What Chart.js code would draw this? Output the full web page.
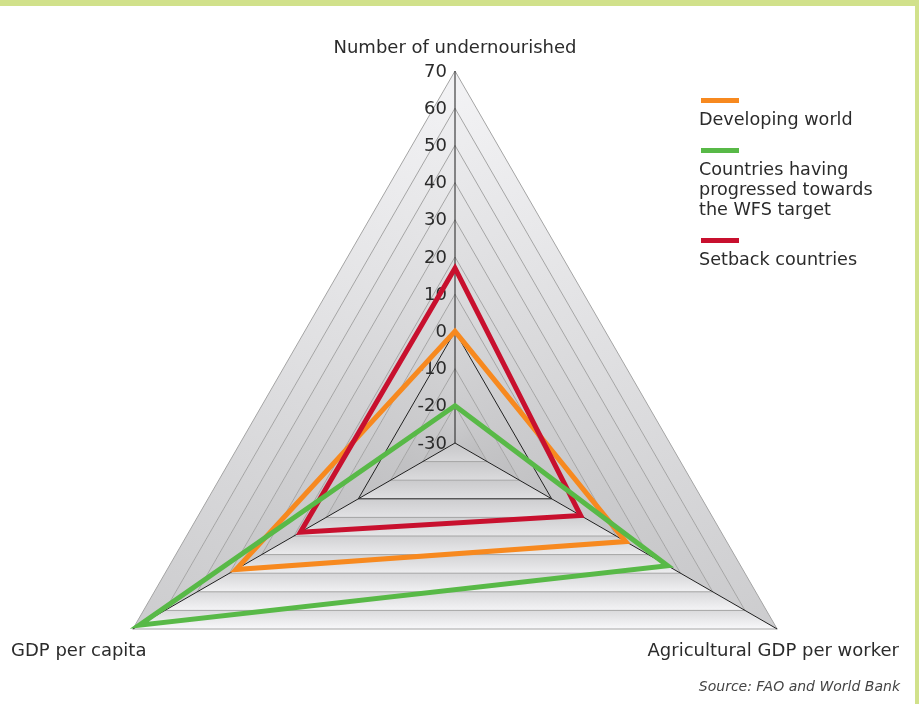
<!DOCTYPE html>
<html>
<head>
<meta charset="utf-8">
<script src="https://cdn.jsdelivr.net/npm/chart.js@4.4.1/dist/chart.umd.min.js"></script>
<style>
  html, body { margin: 0; padding: 0; background: #fff; overflow: hidden; }
  #frame { position: relative; width: 919px; height: 704px; overflow: hidden;
           font-family: "DejaVu Sans", sans-serif; color: #2b2b2b; }
  #radar { position: absolute; left: 0; top: 0; }
  #topbar { position: absolute; left: 0; top: 0; width: 919px; height: 6px; background: #d1e18b; }
  #rightbar { position: absolute; right: 0; top: 0; width: 4px; height: 704px; background: #d1e18b; }
  .axis-title { position: absolute; font-size: 18px; line-height: 20px; white-space: nowrap; }
  #legend { position: absolute; left: 699px; top: 98px; width: 192px; }
  .lg-item { margin-bottom: 19px; }
  .lg-bar { width: 38px; height: 5px; margin-left: 2px; margin-bottom: 6px; }
  .lg-text { font-size: 17.6px; line-height: 20px; }
  #source { position: absolute; right: 19px; top: 678px; font-size: 14px; font-style: italic; color: #444; }
</style>
</head>
<body>
<div id="frame">
  <canvas id="radar" width="919" height="830"></canvas>
  <div id="topbar"></div>
  <div id="rightbar"></div>
  <div class="axis-title" id="t0" style="left:455px; top:37px; transform:translateX(-50%);"></div>
  <div class="axis-title" id="t1" style="right:20px; top:640px;"></div>
  <div class="axis-title" id="t2" style="left:11px; top:640px;"></div>
  <div id="legend"></div>
  <div id="source">Source: FAO and World Bank</div>
</div>
<script>
const axisLabels = ['Number of undernourished', 'Agricultural GDP per worker', 'GDP per capita'];
const developingWorld = [0, 23, 38];
const progressedCountries = [-20, 36, 68];
const setbackCountries = [17, 9, 18];
const seriesNames = ['Developing world', 'Countries having progressed towards the WFS target', 'Setback countries'];
const seriesColors = ['#f7891f', '#58b947', '#c8102e'];
const tickMin = -30, tickMax = 70, tickStep = 10;

// axis titles and legend
axisLabels.forEach((l, i) => { document.getElementById('t' + i).textContent = l; });
const legend = document.getElementById('legend');
seriesNames.forEach((name, i) => {
    const item = document.createElement('div');
    item.className = 'lg-item';
    item.innerHTML = '<div class="lg-bar" style="background:' + seriesColors[i] + '"></div>' +
        '<div class="lg-text">' + name + '</div>';
    legend.appendChild(item);
});

function lerp(a, b, t) { return a + (b - a) * t; }
function grey(v) { v = Math.round(v); return 'rgb(' + v + ',' + v + ',' + (v + 2) + ')'; }
function mid(p, q) { return { x: (p.x + q.x) / 2, y: (p.y + q.y) / 2 }; }

// shaded pyramid faces behind the grid
const facetShading = {
    id: 'facetShading',
    beforeDraw(chart) {
        const s = chart.scales.r, ctx = chart.ctx;
        const n = chart.data.labels.length;
        ctx.save();
        for (let f = 0; f < n; f++) {
            const a = f, b = (f + 1) % n;
            for (let v = tickMin; v < tickMax; v += tickStep) {
                const A = s.getPointPositionForValue(a, v), B = s.getPointPositionForValue(b, v);
                const C = s.getPointPositionForValue(b, v + tickStep), D = s.getPointPositionForValue(a, v + tickStep);
                const t0 = (v - tickMin) / (tickMax - tickMin);
                const t1 = (v + tickStep - tickMin) / (tickMax - tickMin);
                let g;
                if (f === 1) {
                    const p = mid(A, B), q = mid(C, D);
                    g = ctx.createLinearGradient(p.x, p.y, q.x, q.y);
                    g.addColorStop(0, grey(lerp(198, 220, t0)));
                    g.addColorStop(1, grey(lerp(212, 248, t1)));
                } else {
                    const hi = f === 0 ? mid(A, D) : mid(B, C);
                    const lo = f === 0 ? mid(B, C) : mid(A, D);
                    g = ctx.createLinearGradient(hi.x, hi.y, lo.x, lo.y);
                    g.addColorStop(0, grey(lerp(200, 244, (t0 + t1) / 2)));
                    g.addColorStop(1, grey(lerp(190, 206, (t0 + t1) / 2)));
                }
                ctx.fillStyle = g;
                ctx.beginPath();
                ctx.moveTo(A.x, A.y); ctx.lineTo(B.x, B.y); ctx.lineTo(C.x, C.y); ctx.lineTo(D.x, D.y);
                ctx.closePath();
                ctx.fill();
            }
        }
        ctx.restore();
    }
};

// tick labels to the left of the vertical spoke
const tickLabels = {
    id: 'tickLabels',
    beforeDatasetsDraw(chart) {
        const s = chart.scales.r, ctx = chart.ctx;
        ctx.save();
        ctx.font = '18px "DejaVu Sans"';
        ctx.fillStyle = '#2b2b2b';
        ctx.textAlign = 'right';
        ctx.textBaseline = 'middle';
        s.ticks.forEach(t => {
            ctx.fillText(t.label, s.xCenter - 8, s.yCenter - s.getDistanceFromCenterForValue(t.value) + 1);
        });
        ctx.restore();
    }
};

const seriesData = [developingWorld, progressedCountries, setbackCountries];
const drawOrder = [2, 0, 1];

new Chart(document.getElementById('radar'), {
    type: 'radar',
    data: {
        labels: axisLabels,
        datasets: seriesData.map((d, i) => ({
            label: seriesNames[i],
            data: d,
            borderColor: seriesColors[i],
            borderWidth: 5,
            borderJoinStyle: 'miter',
            fill: false,
            pointRadius: 0,
            pointHoverRadius: 0,
            order: drawOrder[i]
        }))
    },
    options: {
        responsive: false,
        animation: false,
        layout: { padding: { top: 71, left: 83, right: 92, bottom: 15 } },
        plugins: { legend: { display: false }, tooltip: { enabled: false } },
        elements: { line: { tension: 0 } },
        scales: {
            r: {
                min: tickMin,
                max: tickMax,
                ticks: { stepSize: tickStep, display: false, showLabelBackdrop: false },
                grid: {
                    color: ctx => ctx.tick && ctx.tick.value === 0 ? '#1e1e1e' : '#a4a4a4',
                    lineWidth: 1
                },
                angleLines: { color: '#1e1e1e', lineWidth: 1 },
                pointLabels: { display: false }
            }
        }
    },
    plugins: [facetShading, tickLabels]
});
</script>
</body>
</html>
